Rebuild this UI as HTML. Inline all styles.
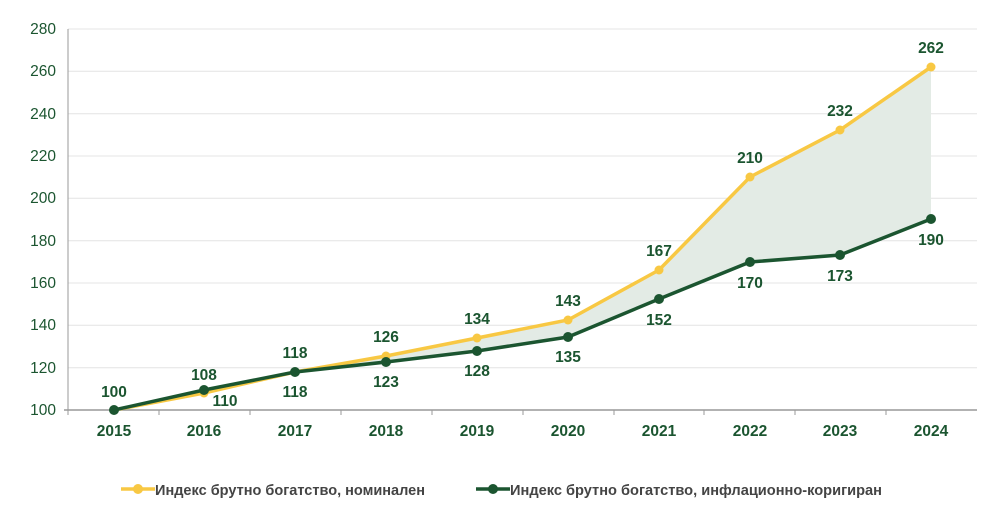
<!DOCTYPE html>
<html><head><meta charset="utf-8"><style>
body{margin:0;background:#fff;}
svg{display:block;font-family:"Liberation Sans",sans-serif;}
</style></head><body>
<svg width="1000" height="512" viewBox="0 0 1000 512">
<g stroke="#e4e4e4" stroke-width="1">
<line x1="68" x2="977" y1="29" y2="29"/><line x1="68" x2="977" y1="71.3" y2="71.3"/><line x1="68" x2="977" y1="113.7" y2="113.7"/><line x1="68" x2="977" y1="156" y2="156"/><line x1="68" x2="977" y1="198.3" y2="198.3"/><line x1="68" x2="977" y1="240.7" y2="240.7"/><line x1="68" x2="977" y1="283" y2="283"/><line x1="68" x2="977" y1="325.3" y2="325.3"/><line x1="68" x2="977" y1="367.7" y2="367.7"/>
</g>
<line x1="68" x2="68" y1="29" y2="410" stroke="#999"/>
<line x1="64" x2="977" y1="410" y2="410" stroke="#999" stroke-width="1.5"/>
<g stroke="#999"><line x1="159" x2="159" y1="410" y2="415"/><line x1="250" x2="250" y1="410" y2="415"/><line x1="341" x2="341" y1="410" y2="415"/><line x1="432" x2="432" y1="410" y2="415"/><line x1="523" x2="523" y1="410" y2="415"/><line x1="614" x2="614" y1="410" y2="415"/><line x1="704" x2="704" y1="410" y2="415"/><line x1="795" x2="795" y1="410" y2="415"/><line x1="886" x2="886" y1="410" y2="415"/><line x1="68" x2="68" y1="410" y2="415"/></g>
<g fill="#1b5530" font-size="15.5" text-anchor="end">
<text x="56" y="34">280</text><text x="56" y="76">260</text><text x="56" y="119">240</text><text x="56" y="161">220</text><text x="56" y="203">200</text><text x="56" y="246">180</text><text x="56" y="288">160</text><text x="56" y="330">140</text><text x="56" y="373">120</text><text x="56" y="415">100</text>
</g>
<g fill="#1b5530" font-size="15.5" font-weight="bold" text-anchor="middle">
<text x="114" y="436">2015</text><text x="204" y="436">2016</text><text x="295" y="436">2017</text><text x="386" y="436">2018</text><text x="477" y="436">2019</text><text x="568" y="436">2020</text><text x="659" y="436">2021</text><text x="750" y="436">2022</text><text x="840" y="436">2023</text><text x="931" y="436">2024</text>
</g>
<polygon fill="#e3ebe5" points="114,410 204,393 295,372 386,356 477,338 568,320 659,270 750,177 840,130 931,67 931,219 840,255 750,262 659,299 568,337 477,351 386,362 295,372 204,390"/>
<polyline fill="none" stroke="#f8c843" stroke-width="3.5" points="114,410 204,393 295,372 386,356 477,338 568,320 659,270 750,177 840,130 931,67"/>
<g fill="#f8c843"><circle cx="204" cy="393" r="4.5"/><circle cx="386" cy="356" r="4.5"/><circle cx="477" cy="338" r="4.5"/><circle cx="568" cy="320" r="4.5"/><circle cx="659" cy="270" r="4.5"/><circle cx="750" cy="177" r="4.5"/><circle cx="840" cy="130" r="4.5"/><circle cx="931" cy="67" r="4.5"/></g>
<polyline fill="none" stroke="#1b5530" stroke-width="3.5" points="114,410 204,390 295,372 386,362 477,351 568,337 659,299 750,262 840,255 931,219"/>
<g fill="#1b5530"><circle cx="114" cy="410" r="5"/><circle cx="204" cy="390" r="5"/><circle cx="295" cy="372" r="5"/><circle cx="386" cy="362" r="5"/><circle cx="477" cy="351" r="5"/><circle cx="568" cy="337" r="5"/><circle cx="659" cy="299" r="5"/><circle cx="750" cy="262" r="5"/><circle cx="840" cy="255" r="5"/><circle cx="931" cy="219" r="5"/></g>
<g fill="#1b5530" font-size="15.5" font-weight="bold" text-anchor="middle">
<text x="114" y="397">100</text><text x="204" y="380">108</text><text x="295" y="358">118</text><text x="386" y="342">126</text><text x="477" y="324">134</text><text x="568" y="306">143</text><text x="659" y="256">167</text><text x="750" y="163">210</text><text x="840" y="116">232</text><text x="931" y="53">262</text>
<text x="225" y="406">110</text><text x="295" y="397">118</text><text x="386" y="387">123</text><text x="477" y="376">128</text><text x="568" y="362">135</text><text x="659" y="325">152</text><text x="750" y="288">170</text><text x="840" y="281">173</text><text x="931" y="245">190</text>
</g>
<line x1="121" x2="155" y1="489" y2="489" stroke="#f8c843" stroke-width="3.5"/><circle cx="138" cy="489" r="5" fill="#f8c843"/>
<text x="155" y="495" font-size="15" font-weight="bold" fill="#444" textLength="270" lengthAdjust="spacingAndGlyphs">Индекс брутно богатство, номинален</text>
<line x1="476" x2="510" y1="489" y2="489" stroke="#1b5530" stroke-width="3.5"/><circle cx="493" cy="489" r="5" fill="#1b5530"/>
<text x="510" y="495" font-size="15" font-weight="bold" fill="#444" textLength="372" lengthAdjust="spacingAndGlyphs">Индекс брутно богатство, инфлационно-коригиран</text>
</svg>
</body></html>
